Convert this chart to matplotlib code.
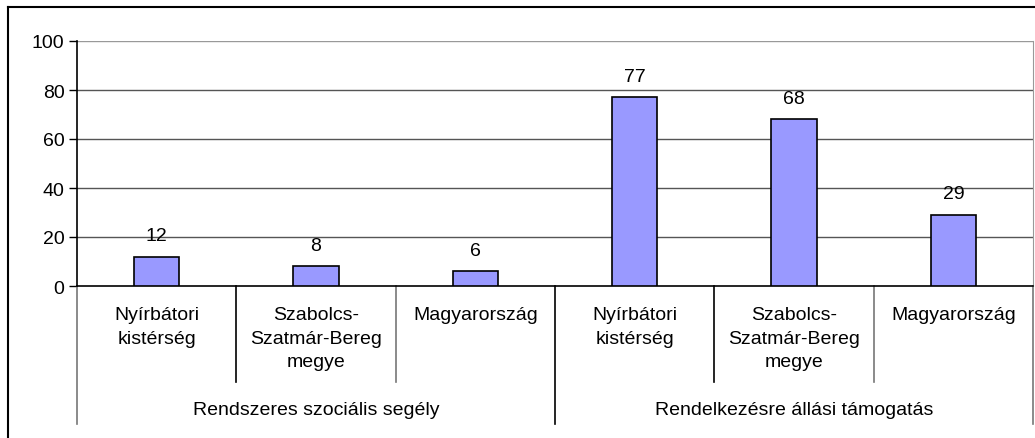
import matplotlib
matplotlib.use('Agg')
import matplotlib.pyplot as plt
from matplotlib.lines import Line2D
import numpy as np

plt.rcParams['font.family'] = ['Liberation Sans', 'DejaVu Sans']

# data
groups = ["Rendszeres szociális segély", "Rendelkezésre állási támogatás"]
regions = ["Nyírbátori\nkistérség", "Szabolcs-\nSzatmár-Bereg\nmegye", "Magyarország"]
values_segely = [12, 8, 6]
values_tamogatas = [77, 68, 29]

values = values_segely + values_tamogatas
labels = regions + regions
n = len(values)
FS = 14

W, H = 1035, 439
fig = plt.figure(figsize=(W / 100, H / 100), dpi=100)
ax = fig.add_axes([77 / W, 1 - 287 / H, (1033 - 77) / W, (287 - 42) / H])

x = np.arange(n)
bars = ax.bar(x, values, width=0.283, color='#9999FF', edgecolor='black',
              linewidth=1.2, zorder=3)
for b, v in zip(bars, values):
    ax.annotate(f"{v}", (b.get_x() + b.get_width() / 2, v),
                xytext=(0, 9), textcoords='offset points',
                ha='center', va='bottom', fontsize=FS)

ax.set_xlim(-0.5, n - 0.5)
ax.set_ylim(0, 100)
ax.set_yticks(range(0, 101, 20))
ax.tick_params(axis='y', labelsize=FS, length=6, width=1, direction='out', pad=3)
ax.set_xticks([])
for y in range(20, 100, 20):
    ax.axhline(y, color='#555555', lw=1, zorder=1)
ax.axhline(100, color='#999999', lw=1, zorder=1)

ax.spines['top'].set_visible(False)
ax.spines['right'].set_color('#999999')
ax.spines['left'].set_linewidth(1.2)
ax.spines['bottom'].set_linewidth(1.2)

# multi-level category axis
trans = ax.get_xaxis_transform()
ax_h = 287 - 42
y_lvl1 = -(383 - 287) / ax_h
y_lvl2 = -(425 - 287) / ax_h
for i in range(n + 1):
    xb = i - 0.5
    if i % 3 == 0:
        col = 'black' if i == 3 else '#777777'
        ax.add_line(Line2D([xb, xb], [0, y_lvl2], transform=trans, color=col,
                           lw=1.2, clip_on=False))
    else:
        col = 'black' if i in (1, 4) else '#777777'
        ax.add_line(Line2D([xb, xb], [0, y_lvl1], transform=trans, color=col,
                           lw=1.2, clip_on=False))

y_lab = -(307 - 287) / ax_h
for xi, lab in zip(x, labels):
    ax.text(xi, y_lab, lab, transform=trans, ha='center', va='top',
            fontsize=FS, linespacing=1.5)

y_grp = -(411 - 287) / ax_h
for gi, g in enumerate(groups):
    ax.text(gi * 3 + 1, y_grp, g, transform=trans, ha='center', va='center',
            fontsize=FS)

# outer chart border (cropped)
fig.add_artist(Line2D([8 / W, 8 / W], [0, 1 - 8 / H], color='black', lw=1.5))
fig.add_artist(Line2D([8 / W, 1], [1 - 8 / H, 1 - 8 / H], color='black', lw=1.5))

fig.savefig('out.png', dpi=100, facecolor='white')
